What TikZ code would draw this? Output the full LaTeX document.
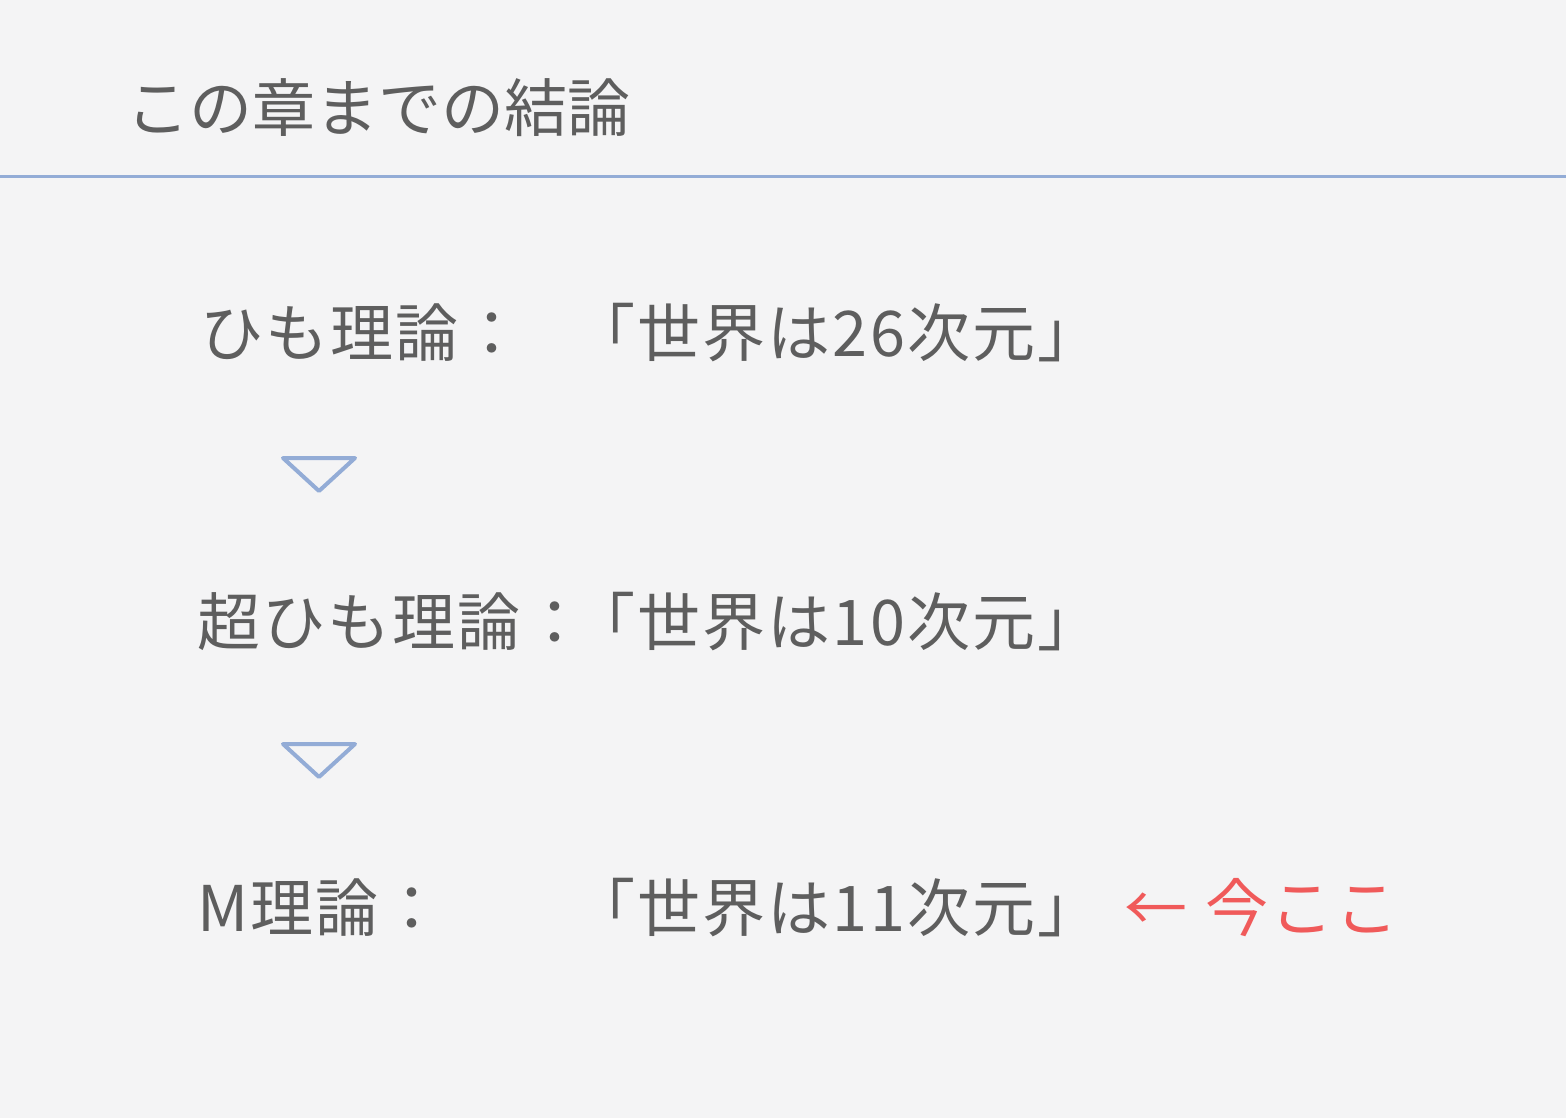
\documentclass[tikz,border=0pt]{standalone}
\usepackage{fontspec}
\setmainfont{Noto Sans CJK JP}
\newfontfamily\jp[LetterSpace=3.5]{Noto Sans CJK JP}
\newfontfamily\jpt{Noto Sans CJK JP}
\definecolor{bgc}{HTML}{F4F4F5}
\definecolor{txt}{HTML}{5E5E5E}
\definecolor{lineblue}{HTML}{93ACD6}
\definecolor{hered}{HTML}{F05A5A}
\tikzset{
  lbl/.style={anchor=west, inner sep=0pt, text=txt, font=\jp\fontsize{63}{63}\selectfont},
  ttl/.style={anchor=west, inner sep=0pt, text=txt, font=\jpt\fontsize{63}{63}\selectfont},
  redlbl/.style={anchor=west, inner sep=0pt, text=hered, font=\jp\fontsize{63}{63}\selectfont},
  tri/.style={draw=lineblue, line width=4pt, line join=round, line cap=round}
}
\begin{document}
\begin{tikzpicture}[x=1pt,y=-1pt]
\useasboundingbox (0,0) rectangle (1566,1118);
\fill[bgc] (0,0) rectangle (1566,1118);
\node[ttl] (title) at (126,108) {この章までの結論};
\draw[lineblue, line width=3pt] (0,177) -- (1566,177);
\node[lbl] (a1) at (200,333) {ひも理論：};
\node[lbl] (b1) at (572,333) {「世界は26次元」};
\node[lbl] (a2) at (197,622) {超ひも理論：};
\node[lbl] (b2) at (572,622) {「世界は10次元」};
\node[lbl] (a3) at (197,908) {M理論：};
\node[lbl] (b3) at (572,908) {「世界は11次元」};
\node[redlbl] (here) at (1124,908) {←\hspace{18pt}今ここ};
\draw[tri] (283,458) -- (355,458) -- (319,491) -- cycle;
\draw[tri] (283,744) -- (355,744) -- (319,777) -- cycle;
\end{tikzpicture}
\end{document}
